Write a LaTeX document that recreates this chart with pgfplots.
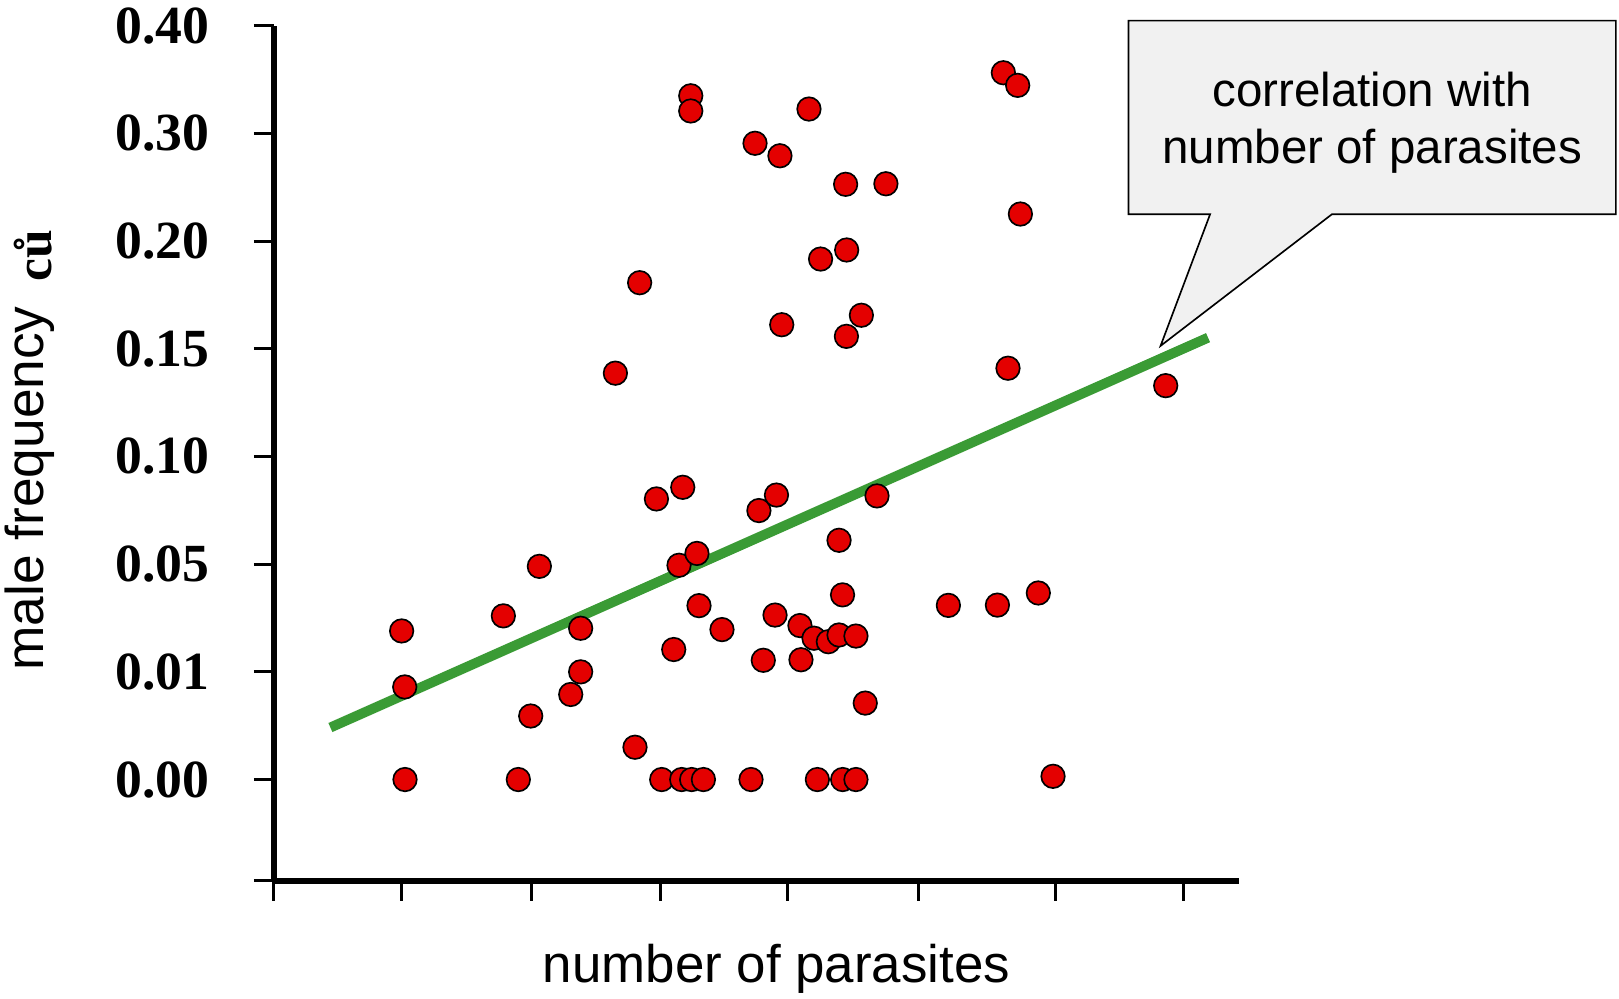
\documentclass[border=0pt]{standalone}
\usepackage{fontspec}
\setmainfont{Liberation Serif}
\setsansfont{Liberation Sans}
\usepackage{pgfplots}
\pgfplotsset{compat=1.18}
\definecolor{ptred}{RGB}{228,0,0}
\definecolor{lgreen}{RGB}{58,155,53}
\definecolor{boxgray}{RGB}{241,241,241}

\pgfplotstableread{
x y
0.992 0.0252
1.016 0.0086
1.018 0.0000
1.780 0.0308
1.896 0.0000
1.992 0.0059
2.059 0.0492
2.302 0.0079
2.379 0.0262
2.379 0.0100
2.648 0.1387
2.800 0.0030
2.836 0.1807
2.966 0.0803
3.007 0.0000
3.100 0.0183
3.141 0.0496
3.162 0.0000
3.170 0.0857
3.232 0.3350
3.232 0.3209
3.239 0.0000
3.280 0.0550
3.296 0.0346
3.330 0.0000
3.474 0.0257
3.699 0.0000
3.730 0.2909
3.760 0.0749
3.794 0.0143
3.885 0.0311
3.896 0.0821
3.923 0.2793
3.937 0.1612
4.078 0.0272
4.086 0.0145
4.148 0.3227
4.187 0.0225
4.213 0.0000
4.238 0.1917
4.298 0.0212
4.381 0.0611
4.381 0.0237
4.408 0.0386
4.409 0.0000
4.432 0.2528
4.438 0.1558
4.440 0.1959
4.512 0.0233
4.512 0.0000
4.554 0.1656
4.584 0.0071
4.675 0.0817
4.744 0.2533
5.228 0.0347
5.608 0.0348
5.654 0.3564
5.690 0.1410
5.765 0.3447
5.786 0.2252
5.925 0.0393
6.039 0.0003
6.912 0.1329
}\pointdata

\begin{document}
\begin{tikzpicture}
\path[use as bounding box] (-66.25pt,-28.5pt) rectangle (325.75pt,213.25pt);
\begin{axis}[
  at={(0pt,0pt)}, anchor=south west,
  scale only axis, width=233.75pt, height=207pt,
  xmin=0, xmax=7.48, ymin=-0.0094, ymax=0.4,
  y coord trafo/.code={\pgfmathparse{(#1<=0.01)*(#1*100) + (#1>0.01)*(#1<=0.05)*(1+(#1-0.01)/0.04) + (#1>0.05)*(#1<=0.2)*(2+(#1-0.05)/0.05) + (#1>0.2)*(5+(#1-0.2)/0.1)}},
  axis x line*=bottom, axis y line*=left,
  axis line style={line width=1.4pt, black},
  tick align=outside, major tick length=4.8pt,
  tick style={line width=0.7pt, black},
  xtick={0,0.992,2.0,3.0,3.984,5.0,6.056,7.048},
  xticklabel=\empty,
  ytick={-0.0094,0,0.01,0.05,0.1,0.15,0.2,0.3,0.4},
  yticklabels={,0.00,0.01,0.05,0.10,0.15,0.20,0.30,0.40},
  yticklabel style={font=\fontsize{13}{15}\selectfont\bfseries, xshift=-7.2pt},
  clip=false,
]
\addplot[lgreen, line width=2.4pt] coordinates {(0.44,0.00483) (7.24,0.1552)};
\addplot[only marks, mark=*, mark size=2.85pt, mark options={fill=ptred, draw=black, line width=0.4pt}] table[x=x,y=y] {\pointdata};
\end{axis}
\begin{scope}[shift={(-66.25pt,213.25pt)}, x=0.25pt, y=-0.25pt]
\filldraw[fill=boxgray, draw=black, line width=0.4pt] (1093,20) -- (1565,20) -- (1565,207.5) -- (1290,207.5) -- (1124,335) -- (1172,207.5) -- (1093,207.5) -- cycle;
\node[anchor=base, inner sep=0pt, font=\sffamily\fontsize{11.5}{13.9}\selectfont] at (1329,103.3) {correlation with};
\node[anchor=base, inner sep=0pt, font=\sffamily\fontsize{11.5}{13.9}\selectfont] at (1329,158.8) {number of parasites};
\node[anchor=base, inner sep=0pt, font=\sffamily\fontsize{12.8}{15}\selectfont] at (752,952) {number of parasites};
\node[rotate=90, anchor=base, inner sep=0pt, font=\sffamily\fontsize{12.9}{15}\selectfont] at (42,436) {male frequency\hspace{6pt}\raisebox{-2pt}{\rmfamily\bfseries\fontsize{12.5}{15}\selectfont ců}};
\end{scope}
\end{tikzpicture}
\end{document}
